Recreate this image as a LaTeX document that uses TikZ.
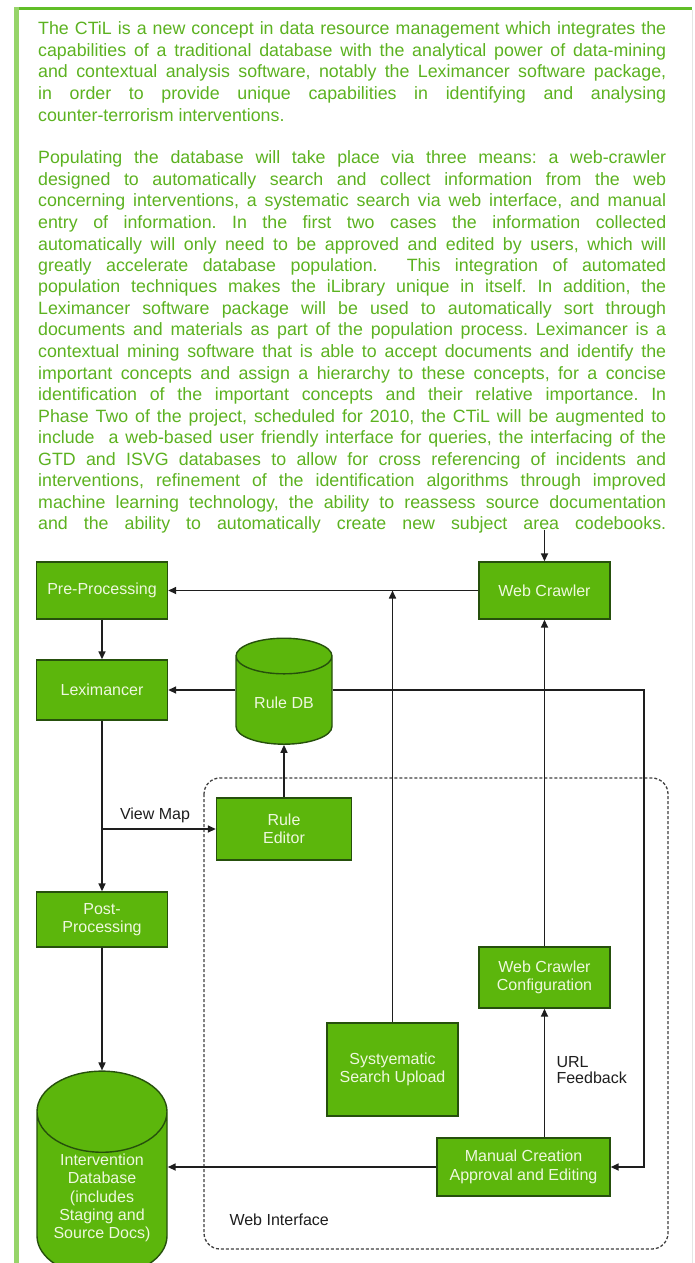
\documentclass[tikz,border=0pt]{standalone}
\usepackage{fontspec}
\setmainfont{Liberation Sans}
\usetikzlibrary{shapes.geometric,arrows.meta}

\definecolor{ctiltext}{RGB}{92,178,32}
\definecolor{boxfill}{RGB}{92,182,12}
\definecolor{boxedge}{RGB}{38,80,12}
\definecolor{boxtext}{RGB}{238,248,222}
\definecolor{framegreen}{RGB}{96,190,40}
\definecolor{framepale}{RGB}{150,212,105}
\definecolor{wire}{RGB}{30,30,30}

\begin{document}
\begin{tikzpicture}[x=1pt, y=-1pt,
    box/.style={draw=boxedge, fill=boxfill, line width=1.4pt, text=boxtext,
        font=\fontsize{16}{18.5}\selectfont, align=center, inner sep=2pt},
    db/.style={box, cylinder, shape border rotate=90},
    link/.style={draw=wire, line width=1.6pt, -{Triangle[length=8pt, width=7pt]}},
    lbl/.style={text=wire, font=\fontsize{16}{16.5}\selectfont, align=left}]
    \useasboundingbox (0,0) rectangle (694,1263);
    \fill[white] (0,0) rectangle (694,1263);

    % Kader rond de pagina
    \fill[framegreen] (14,7) rectangle (692,10);
    \fill[framepale] (14,7) rectangle (19,1263);
    \draw[black!10, line width=1pt] (692,10) -- (692,1263);

    % Inleidende tekst
    \node[anchor=base west, inner sep=0pt, text=ctiltext,
        font=\fontsize{17.8}{21.5}\selectfont] (blurb) at (38,35) {%
        \begin{minipage}[t]{628pt}
        \frenchspacing\tolerance=10000\hyphenpenalty=10000\exhyphenpenalty=10000
        The CTiL is a new concept in data resource management which integrates the\linebreak
        capabilities of a traditional database with the analytical power of data-mining\linebreak
        and contextual analysis software, notably the Leximancer software package,\linebreak
        in order to provide unique capabilities in identifying and analysing\linebreak
        counter-terrorism interventions.\par
        \vspace{21.5pt}
        Populating the database will take place via three means: a web-crawler\linebreak
        designed to automatically search and collect information from the web\linebreak
        concerning interventions, a systematic search via web interface, and manual\linebreak
        entry of information. In the first two cases the information collected\linebreak
        automatically will only need to be approved and edited by users, which will\linebreak
        greatly accelerate database population.\ \ This integration of automated\linebreak
        population techniques makes the iLibrary unique in itself. In addition, the\linebreak
        Leximancer software package will be used to automatically sort through\linebreak
        documents and materials as part of the population process. Leximancer is a\linebreak
        contextual mining software that is able to accept documents and identify the\linebreak
        important concepts and assign a hierarchy to these concepts, for a concise\linebreak
        identification of the important concepts and their relative importance. In\linebreak
        Phase Two of the project, scheduled for 2010, the CTiL will be augmented to\linebreak
        include\ \ a web-based user friendly interface for queries, the interfacing of the\linebreak
        GTD and ISVG databases to allow for cross referencing of incidents and\linebreak
        interventions, refinement of the identification algorithms through improved\linebreak
        machine learning technology, the ability to reassess source documentation\linebreak
        and the ability to automatically create new subject area codebooks.\parfillskip=0pt\par
        \end{minipage}};

    % Web Interface kader
    \draw[black!75, line width=1.3pt, dash pattern=on 3pt off 2pt, rounded corners=16pt]
        (204,778) rectangle (668,1249);
    \node[lbl, anchor=west] (webif) at (226,1220) {Web Interface};

    % Blokken
    \node[box, minimum width=131pt, minimum height=57pt] (pre) at (102,590.5) {Pre-Processing};
    \node[box, minimum width=131pt, minimum height=57pt] (web) at (544.5,590.5) {Web Crawler};
    \node[box, minimum width=131pt, minimum height=60pt] (lex) at (102,690) {Leximancer};
    \node[db, minimum width=96pt, minimum height=106pt, aspect=0.56] (ruledb) at (284,703) {Rule DB};
    \node[box, minimum width=135pt, minimum height=62pt] (ruleed) at (284,829) {Rule\\Editor};
    \node[box, minimum width=131pt, minimum height=55pt] (post) at (102,919.5) {Post-\\Processing};
    \node[box, minimum width=131pt, minimum height=61pt] (wcc) at (544.5,977.5) {Web Crawler\\Configuration};
    \node[box, minimum width=131pt, minimum height=93pt] (sys) at (392.5,1069.5) {Systyematic\\Search Upload};
    \node[box, minimum width=173pt, minimum height=58pt] (manual) at (523.5,1167) {Manual Creation\\Approval and Editing};
    \node[db, minimum width=130pt, minimum height=173pt, aspect=0.82, inner sep=1pt,
        font=\fontsize{16}{18.3}\selectfont] (intdb) at (102,1198)
        {Intervention\\Database\\(includes\\Staging and\\Source Docs)};

    % Bijschriften bij de verbindingen
    \node[lbl] (viewmap) at (155,815) {View Map};
    \node[lbl, anchor=west] (url) at (553,1070) {URL\\Feedback};

    % Verbindingen
    \coordinate (feed) at (544.5,530);
    \coordinate (rside) at (644,0);
    \draw[link] (feed) -- (web);
    \draw[link] (web) -- (pre);
    \draw[link] (pre) -- (lex);
    \draw[link] (ruledb.west |- lex.east) -- (lex.east);
    \draw[link] (lex) -- (post);
    \draw[link] (lex.south |- ruleed.west) -- (ruleed.west);
    \draw[link] (post) -- (intdb);
    \draw[link] (ruleed) -- (ruledb);
    \draw[link] (sys.north) -- (sys.north |- web.west);
    \draw[link] (wcc) -- (web);
    \draw[link] (manual.north -| wcc.south) -- (wcc.south);
    \draw[link] (ruledb.east |- lex.east) -| (rside |- manual.east) -- (manual.east);
    \draw[link] (manual.west) -- (intdb.east |- manual.west);
\end{tikzpicture}
\end{document}
